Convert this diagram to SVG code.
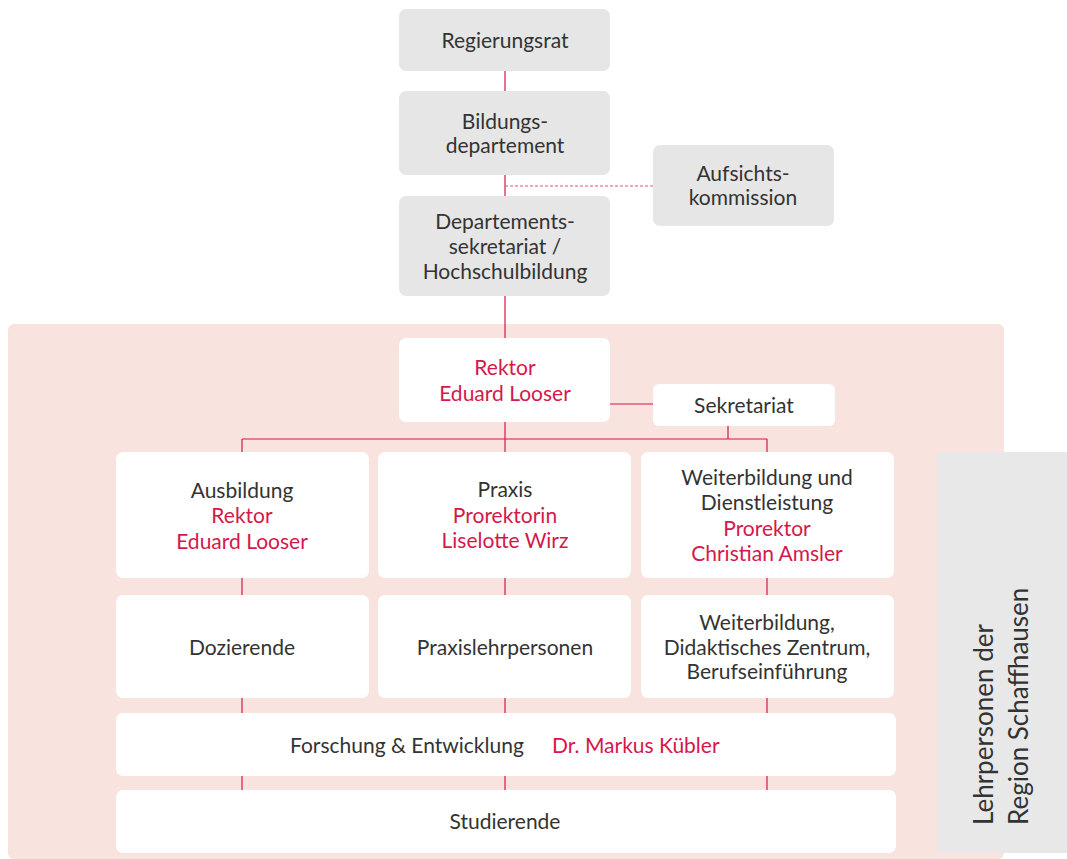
<svg xmlns="http://www.w3.org/2000/svg" width="1067" height="859" viewBox="0 0 1067 859">
<style>
.t{font-family:Lato,"Liberation Sans",sans-serif;font-size:21px;font-weight:400;fill:#333;text-anchor:middle}
.r{fill:#d4184b}
.g{fill:#e6e6e6}
.w{fill:#fff}
.ln{stroke:#d4164a;stroke-width:1.2;fill:none}
</style>
<rect x="0" y="0" width="1067" height="859" fill="#fff"/>
<rect id="bg" x="8" y="324" width="996" height="535" rx="6" fill="#f8e3df"/>
<g id="connectors">
<line class="ln" x1="505" y1="71" x2="505" y2="338"/>
<line x1="505" y1="186" x2="653" y2="186" stroke="#e0527a" stroke-width="1" stroke-dasharray="3,2"/>
<line class="ln" x1="610" y1="404" x2="653" y2="404"/>
<line class="ln" x1="505" y1="422" x2="505" y2="452"/>
<line class="ln" x1="242" y1="439" x2="767" y2="439"/>
<line class="ln" x1="242" y1="439" x2="242" y2="452"/>
<line class="ln" x1="767" y1="439" x2="767" y2="452"/>
<line class="ln" x1="728" y1="426" x2="728" y2="439"/>
<line class="ln" x1="242" y1="578" x2="242" y2="595"/>
<line class="ln" x1="505" y1="578" x2="505" y2="595"/>
<line class="ln" x1="767" y1="578" x2="767" y2="595"/>
<line class="ln" x1="242" y1="698" x2="242" y2="713"/>
<line class="ln" x1="505" y1="698" x2="505" y2="713"/>
<line class="ln" x1="767" y1="698" x2="767" y2="713"/>
<line class="ln" x1="242" y1="776" x2="242" y2="790"/>
<line class="ln" x1="505" y1="776" x2="505" y2="790"/>
<line class="ln" x1="767" y1="776" x2="767" y2="790"/>
</g>
<g id="regierungsrat"><rect class="g" x="399" y="9" width="211" height="62" rx="7"/><text class="t" x="505" y="48">Regierungsrat</text></g>
<g id="bildungsdepartement"><rect class="g" x="399" y="91" width="211" height="84" rx="7"/><text class="t" x="505" y="129">Bildungs-</text><text class="t" x="505" y="153">departement</text></g>
<g id="aufsichtskommission"><rect class="g" x="653" y="145" width="181" height="81" rx="7"/><text class="t" x="743" y="181">Aufsichts-</text><text class="t" x="743" y="205">kommission</text></g>
<g id="departementssekretariat"><rect class="g" x="399" y="196" width="211" height="100" rx="7"/><text class="t" x="505" y="229">Departements-</text><text class="t" x="505" y="254">sekretariat /</text><text class="t" x="505" y="279">Hochschulbildung</text></g>
<g id="rektor"><rect class="w" x="399" y="338" width="211" height="84" rx="7"/><text class="t r" x="505" y="375">Rektor</text><text class="t r" x="505" y="401">Eduard Looser</text></g>
<g id="sekretariat"><rect class="w" x="653" y="384" width="182" height="42" rx="6"/><text class="t" x="744" y="413">Sekretariat</text></g>
<g id="ausbildung"><rect class="w" x="116" y="452" width="253" height="126" rx="7"/><text class="t" x="242" y="498">Ausbildung</text><text class="t r" x="242" y="523">Rektor</text><text class="t r" x="242" y="549">Eduard Looser</text></g>
<g id="praxis"><rect class="w" x="378" y="452" width="253" height="126" rx="7"/><text class="t" x="505" y="497">Praxis</text><text class="t r" x="505" y="523">Prorektorin</text><text class="t r" x="505" y="548">Liselotte Wirz</text></g>
<g id="weiterbildung"><rect class="w" x="641" y="452" width="253" height="126" rx="7"/><text class="t" x="767" y="485">Weiterbildung und</text><text class="t" x="767" y="510">Dienstleistung</text><text class="t r" x="767" y="536">Prorektor</text><text class="t r" x="767" y="561">Christian Amsler</text></g>
<g id="dozierende"><rect class="w" x="116" y="595" width="253" height="103" rx="7"/><text class="t" x="242" y="655">Dozierende</text></g>
<g id="praxislehrpersonen"><rect class="w" x="378" y="595" width="253" height="103" rx="7"/><text class="t" x="505" y="655">Praxislehrpersonen</text></g>
<g id="weiterbildung-zentrum"><rect class="w" x="641" y="595" width="253" height="103" rx="7"/><text class="t" x="767" y="630">Weiterbildung,</text><text class="t" x="767" y="655">Didaktisches Zentrum,</text><text class="t" x="767" y="679">Berufseinführung</text></g>
<g id="forschung"><rect class="w" x="116" y="713" width="780" height="63" rx="7"/><text class="t" x="290" y="753" style="text-anchor:start">Forschung &amp; Entwicklung</text><text class="t r" x="552" y="753" style="text-anchor:start">Dr. Markus Kübler</text></g>
<g id="studierende"><rect class="w" x="116" y="790" width="780" height="63" rx="7"/><text class="t" x="505" y="829">Studierende</text></g>
<g id="lehrpersonen"><path d="M943 452 H1067 V853 H943 Q937 853 937 847 V458 Q937 452 943 452 Z" fill="#e8e8e9"/><text class="t" transform="translate(993 825) rotate(-90)" style="text-anchor:start;font-size:26px">Lehrpersonen der</text><text class="t" transform="translate(1028 825) rotate(-90)" style="text-anchor:start;font-size:26px">Region Schaffhausen</text></g>
</svg>
